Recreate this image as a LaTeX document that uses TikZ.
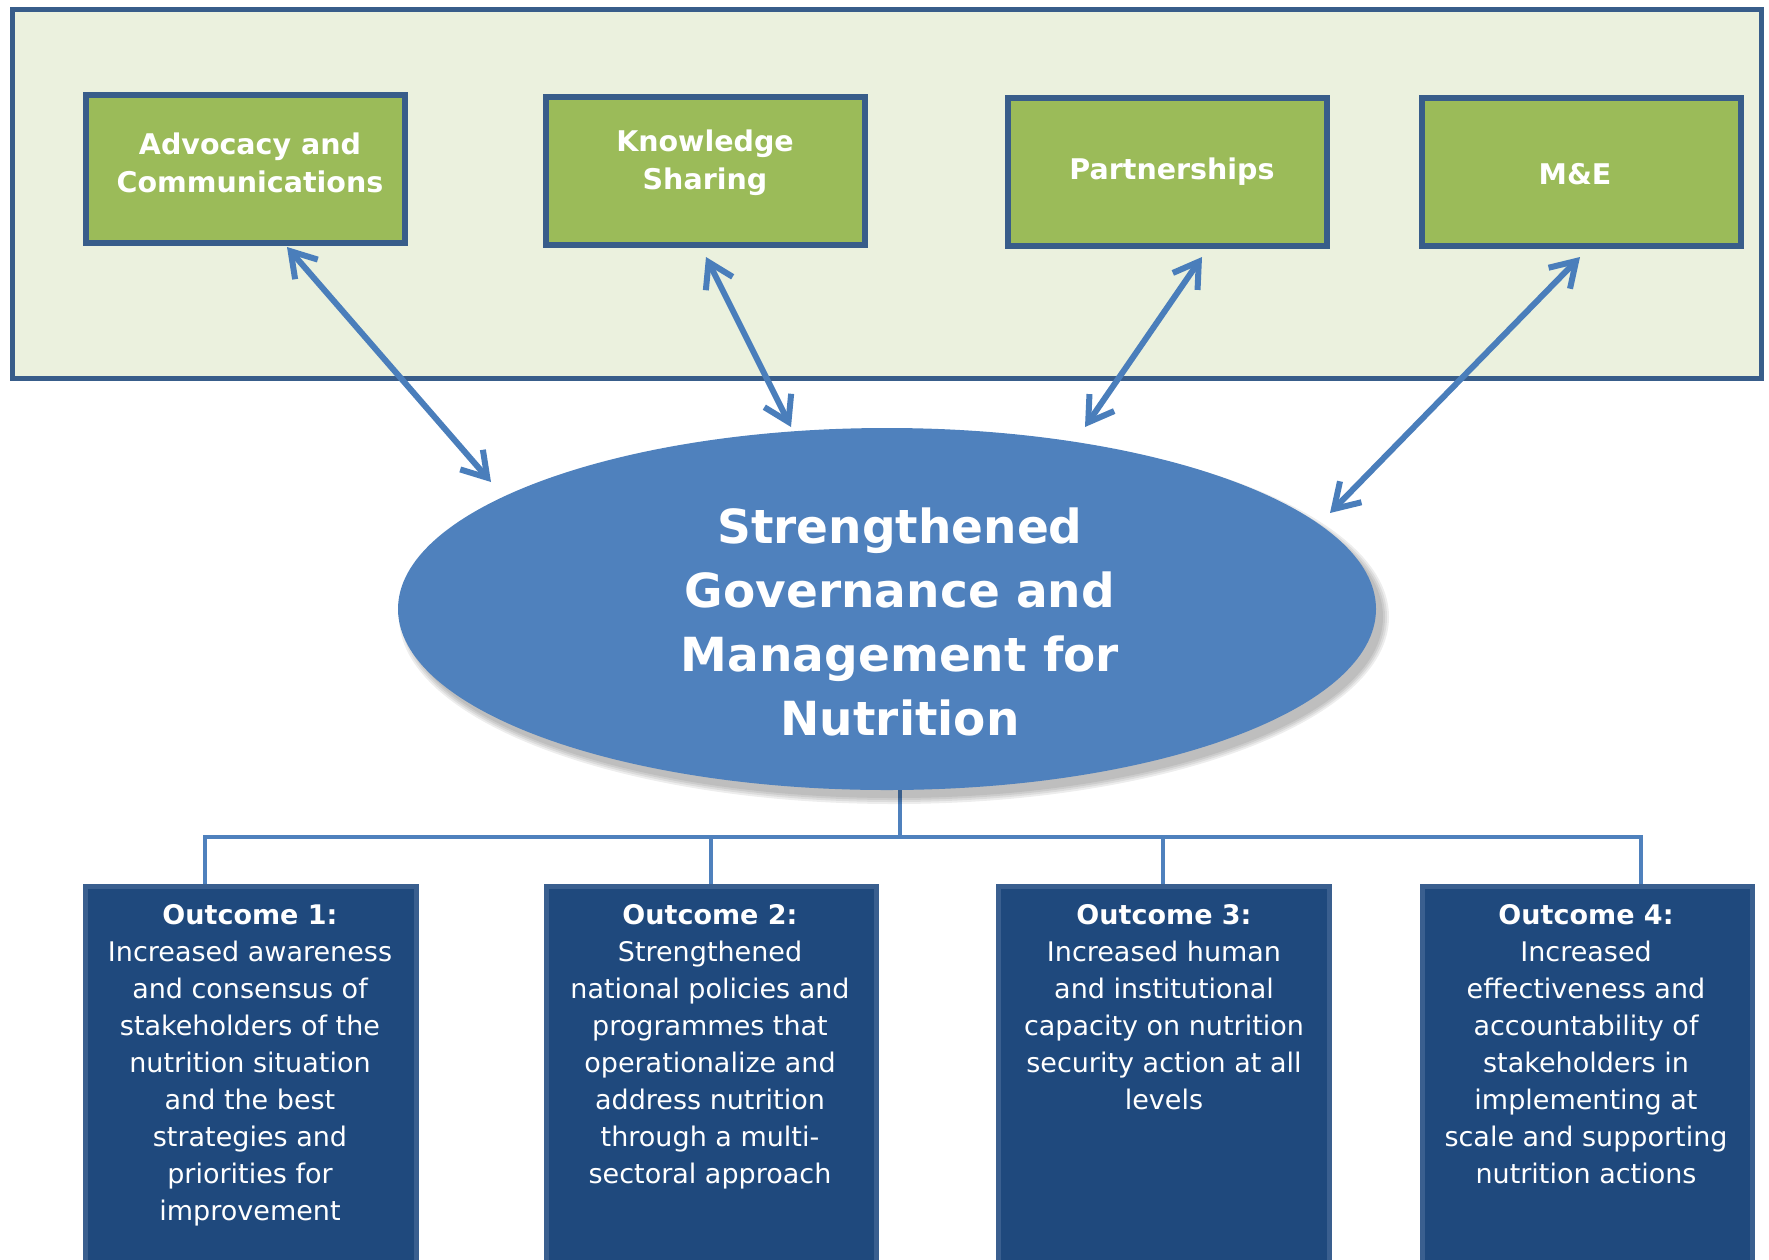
\documentclass[tikz,border=0pt]{standalone}
\usepackage{fontspec}
\setmainfont{DejaVu Sans}
\usetikzlibrary{arrows.meta,shapes.geometric}
\definecolor{panelfill}{HTML}{EBF1DE}
\definecolor{navyline}{HTML}{385D8A}
\definecolor{leaf}{HTML}{9BBB59}
\definecolor{coreblue}{HTML}{4F81BD}
\definecolor{arrowblue}{HTML}{4A7EBB}
\definecolor{outfill}{HTML}{1F497D}
\definecolor{outedge}{HTML}{3A5F8F}
\begin{document}
\begin{tikzpicture}[x=1pt,y=-1pt,
  greenbox/.style={draw=navyline, line width=6pt, fill=leaf, minimum width=319pt, minimum height=148pt, inner sep=0pt},
  greentext/.style={text=white, font=\bfseries\fontsize{28.5}{38}\selectfont, align=center, inner sep=0pt},
  outbox/.style={draw=outedge, line width=5pt, fill=outfill, minimum height=413.5pt, inner sep=0pt},
  outtext/.style={text=white, font=\fontsize{27}{37}\selectfont, align=center, anchor=north, inner sep=0pt},
  link/.style={draw=arrowblue, line width=6pt, line cap=round, {Straight Barb[length=24pt,width=30pt]}-{Straight Barb[length=24pt,width=30pt]}},
  tree/.style={draw=coreblue, line width=4pt}
]
\useasboundingbox (0,0) rectangle (1769,1259);
\clip (0,0) rectangle (1769,1259);

% top panel
\draw[draw=navyline, fill=panelfill, line width=5pt] (12,9.5) rectangle (1761.5,378);

% activity boxes
\node[greenbox] (b1) at (245.5,169) {};
\node[greenbox] (b2) at (705.5,171) {};
\node[greenbox] (b3) at (1167.5,172) {};
\node[greenbox] (b4) at (1581.5,172) {};
\node[greentext] (t1) at (250,162.5) {Advocacy and\\Communications};
\node[greentext] (t2) at (705,163) {Knowledge\\Sharing};
\node[greentext] (t3) at (1172,171.5) {Partnerships};
\node[greentext] (t4) at (1575,174.5) {M\&E};

% outcome boxes
\node[outbox, minimum width=331pt] (o1) at (251,1093.25) {};
\node[outbox, minimum width=330pt] (o2) at (711.5,1093.25) {};
\node[outbox, minimum width=331pt] (o3) at (1164,1093.25) {};
\node[outbox, minimum width=330pt] (o4) at (1587.5,1093.25) {};

% tree connectors
\coordinate (hub) at (900,837);
\coordinate (d1) at (205,837);
\coordinate (d2) at (711,837);
\coordinate (d3) at (1163,837);
\coordinate (d4) at (1641,837);
\node[ellipse, minimum width=978pt, minimum height=362pt, inner sep=0pt] (core) at (887,609) {};
\draw[tree] (core.south -| hub) -- (hub);
\draw[tree] ([xshift=-2pt]d1) -- ([xshift=2pt]d4);
\draw[tree] (d1) -- (d1 |- o1.north);
\draw[tree] (d2) -- (d2 |- o2.north);
\draw[tree] (d3) -- (d3 |- o3.north);
\draw[tree] (d4) -- (d4 |- o4.north);

% shadow and central ellipse
\foreach \g in {6,4,2,0} {
  \fill[black, opacity=0.07] (894,617) ellipse ({(489+\g)*1pt} and {(181+\g)*1pt});
}
\fill[coreblue] (core.center) ellipse (489pt and 181pt);
\node[text=white, font=\bfseries\fontsize{47}{64}\selectfont, align=center] (coretext) at (900,622) {Strengthened\\Governance and\\Management for\\Nutrition};

% outcome texts
\node[outtext] (ot1) at (250,904) {\textbf{Outcome 1:}\\Increased awareness\\and consensus of\\stakeholders of the\\nutrition situation\\and the best\\strategies and\\priorities for\\improvement};
\node[outtext] (ot2) at (710,904) {\textbf{Outcome 2:}\\Strengthened\\national policies and\\programmes that\\operationalize and\\address nutrition\\through a multi-\\sectoral approach};
\node[outtext] (ot3) at (1164,904) {\textbf{Outcome 3:}\\Increased human\\and institutional\\capacity on nutrition\\security action at all\\levels};
\node[outtext] (ot4) at (1586,904) {\textbf{Outcome 4:}\\Increased\\effectiveness and\\accountability of\\stakeholders in\\implementing at\\scale and supporting\\nutrition actions};

% two-way arrows
\coordinate (a1s) at (287,247);
\coordinate (a1e) at (491,482);
\coordinate (a2s) at (706,257);
\coordinate (a2e) at (791,427);
\coordinate (a3s) at (1202,257);
\coordinate (a3e) at (1085,427);
\coordinate (a4s) at (1580,257);
\coordinate (a4e) at (1330,513);
\draw[link] (a1s) -- (a1e);
\draw[link] (a2s) -- (a2e);
\draw[link] (a3s) -- (a3e);
\draw[link] (a4s) -- (a4e);
\end{tikzpicture}
\end{document}
